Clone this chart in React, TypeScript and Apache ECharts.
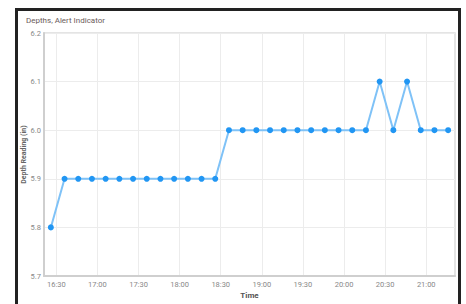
import React, { useEffect, useRef } from "react";
import * as echarts from "echarts";

const times = [
  "16:26", "16:36", "16:46", "16:56", "17:06", "17:16", "17:26", "17:36", "17:46", "17:56",
  "18:06", "18:16", "18:26", "18:36", "18:46", "18:56", "19:06", "19:16", "19:26", "19:36",
  "19:46", "19:56", "20:06", "20:16", "20:26", "20:36", "20:46", "20:56", "21:06", "21:16",
];
const depths = [
  5.8, 5.9, 5.9, 5.9, 5.9, 5.9, 5.9, 5.9, 5.9, 5.9,
  5.9, 5.9, 5.9, 6.0, 6.0, 6.0, 6.0, 6.0, 6.0, 6.0,
  6.0, 6.0, 6.0, 6.0, 6.1, 6.0, 6.1, 6.0, 6.0, 6.0,
];
const xTickLabels = ["16:30", "17:00", "17:30", "18:00", "18:30", "19:00", "19:30", "20:00", "20:30", "21:00"];
const axisStart = "16:21";
const axisEnd = "21:21";
const yMin = 5.7;
const yMax = 6.2;
const yStep = 0.1;

const toMin = (hm: string) => {
  const [h, m] = hm.split(":").map(Number);
  return h * 60 + m;
};
const fmt = (v: number) => {
  const h = Math.floor(v / 60);
  const m = Math.round(v - h * 60);
  return `${h}:${m < 10 ? "0" : ""}${m}`;
};

export default function App() {
  const ref = useRef<HTMLDivElement>(null);
  useEffect(() => {
    document.body.style.margin = "0";
    const chart = echarts.init(ref.current!, undefined, { renderer: "svg" });
    const tickVals = xTickLabels.map(toMin);
    chart.setOption({
      animation: false,
      backgroundColor: "#fff",
      textStyle: { fontFamily: "Roboto" },
      title: {
        text: "Depths, Alert Indicator",
        left: 21,
        top: 11,
        textStyle: { fontSize: 8, fontWeight: "normal", color: "#6a5a5a", fontFamily: "Roboto" },
      },
      graphic: [
        {
          type: "rect",
          shape: { x: 16.5, y: 9.5, width: 443, height: 400 },
          style: { fill: "none", stroke: "#222", lineWidth: 3 },
          silent: true,
        },
      ],
      grid: {
        left: 44,
        right: 11,
        top: 33,
        bottom: 25,
        show: true,
        borderColor: "#dcdcdc",
        borderWidth: 1.5,
      },
      xAxis: {
        type: "value",
        min: toMin(axisStart),
        max: toMin(axisEnd),
        name: "Time",
        nameLocation: "middle",
        nameGap: 15,
        nameMoveOverlap: false,
        nameTextStyle: { fontSize: 8, fontWeight: "bold", color: "#555" },
        axisLine: { lineStyle: { color: "#cfcfcf", width: 2 } },
        axisTick: { show: false, customValues: tickVals },
        axisLabel: {
          fontSize: 7.5,
          color: "#888",
          margin: 4,
          customValues: tickVals,
          formatter: (v: number) => fmt(v),
          hideOverlap: false,
          showMinLabel: true,
          showMaxLabel: true,
        },
        splitLine: { show: true, lineStyle: { color: "#ececec", width: 1 } },
      },
      yAxis: {
        type: "value",
        min: yMin,
        max: yMax,
        interval: yStep,
        name: "Depth Reading (in)",
        nameLocation: "middle",
        nameGap: 17,
        nameMoveOverlap: false,
        nameTextStyle: { fontSize: 7, fontWeight: "bold", color: "#666" },
        axisLine: { show: true, lineStyle: { color: "#cfcfcf", width: 2 } },
        axisTick: { show: false },
        axisLabel: {
          fontSize: 7.5,
          color: "#888",
          margin: 3,
          formatter: (v: number) => v.toFixed(1),
        },
        splitLine: { show: true, lineStyle: { color: "#ececec", width: 1 } },
      },
      series: [
        {
          type: "line",
          data: times.map((t, i) => [toMin(t), depths[i]]),
          lineStyle: { color: "#7fc2f7", width: 2 },
          itemStyle: { color: "#2196f3" },
          symbol: "circle",
          symbolSize: 6,
          showAllSymbol: true,
        },
      ],
    });
    return () => chart.dispose();
  }, []);
  return <div ref={ref} style={{ width: 466, height: 304 }} />;
}
